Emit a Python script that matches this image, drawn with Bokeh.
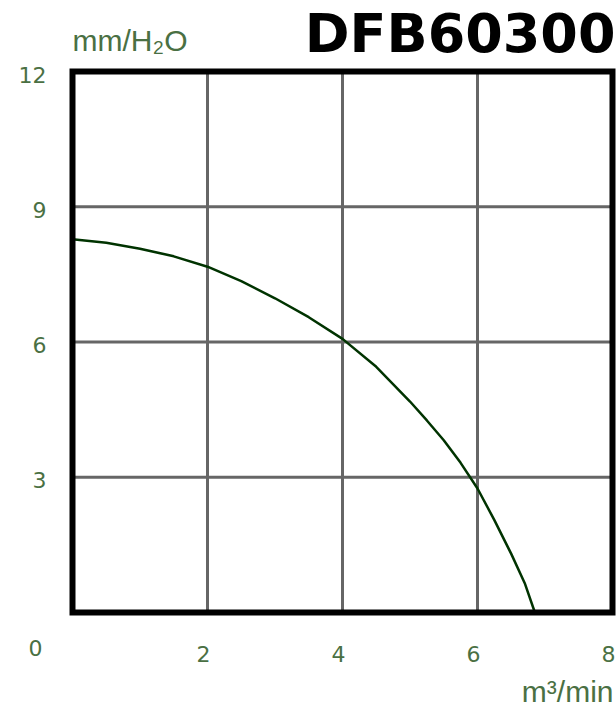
from bokeh.plotting import figure
from bokeh.models import Range1d
from bokeh.core.properties import value
from bokeh.embed import file_html
from bokeh.resources import INLINE

# Data (DFB60300 fan P-Q curve)
flow = [0.0, 0.5, 1.0, 1.5, 2.0, 2.5, 3.0, 3.5, 4.0, 4.5, 5.0, 5.25, 5.5,
        5.75, 6.0, 6.25, 6.5, 6.7, 6.85]
pressure = [8.28, 8.2, 8.07, 7.9, 7.67, 7.35, 6.97, 6.55, 6.07, 5.45, 4.68,
            4.26, 3.82, 3.32, 2.75, 2.05, 1.3, 0.65, 0.0]

x_limits = [0, 8]
y_limits = [0, 12]
x_ticks = [2, 4, 6, 8]
x_tick_labels = ["2", "4", "6", "8"]
y_ticks = [3, 6, 9, 12]
y_tick_labels = ["3", "6", "9", "12"]
x_grid = [2, 4, 6]
y_grid = [3, 6, 9]
origin_label = ["0"]
title_text = ["DFB60300"]
y_unit = ["mm/H\u2082O"]
x_unit = ["m\u00b3/min"]

GREEN = "#4a7043"
FONT = value("DejaVu Sans")
UNIT_FONT = value("Liberation Sans")

# layout (canvas pixels) of the plotting box
W, H = 616, 707
LEFT_PX, RIGHT_PX, TOP_PX, BOTTOM_PX = 72, 612, 71, 612
sx = (RIGHT_PX - LEFT_PX) / (x_limits[1] - x_limits[0])
sy = (BOTTOM_PX - TOP_PX) / (y_limits[1] - y_limits[0])
x_range = Range1d(x_limits[0] - LEFT_PX / sx, x_limits[1] + (W - RIGHT_PX) / sx)
y_range = Range1d(y_limits[0] - (H - BOTTOM_PX) / sy, y_limits[1] + TOP_PX / sy)

p = figure(width=W, height=H, x_range=x_range, y_range=y_range,
           output_backend="svg", toolbar_location=None, title=None,
           x_axis_location=None, y_axis_location=None, min_border=0)
p.background_fill_color = "white"
p.border_fill_color = "white"
p.outline_line_color = None
p.grid.visible = False

# grid lines
p.segment(x0=x_grid, y0=[y_limits[0]] * len(x_grid),
          x1=x_grid, y1=[y_limits[1]] * len(x_grid),
          line_color="#666666", line_width=3)
p.segment(x0=[x_limits[0]] * len(y_grid), y0=y_grid,
          x1=[x_limits[1]] * len(y_grid), y1=y_grid,
          line_color="#666666", line_width=3)

# curve
p.line(flow, pressure, line_color="#003300", line_width=2.5, line_join="round")

# frame box
p.quad(left=[x_limits[0]], right=[x_limits[1]],
       bottom=[y_limits[0]], top=[y_limits[1]],
       fill_color=None, line_color="black", line_width=6, line_join="miter")

# tick labels
p.text(x=[x_limits[0]] * len(y_ticks), y=y_ticks, text=y_tick_labels,
       x_offset=-26, y_offset=3, text_align="right", text_baseline="middle",
       text_font=FONT, text_font_size="22px", text_color=GREEN)
p.text(x=x_ticks, y=[y_limits[0]] * len(x_ticks), text=x_tick_labels,
       x_offset=-4, y_offset=41, text_align="center", text_baseline="middle",
       text_font=FONT, text_font_size="22px", text_color=GREEN)
p.text(x=[x_limits[0]], y=[y_limits[0]], text=origin_label,
       x_offset=-37, y_offset=35, text_align="center", text_baseline="middle",
       text_font=FONT, text_font_size="22px", text_color=GREEN)

# unit labels and title
p.text(x=[x_limits[0]], y=[y_limits[1]], text=y_unit,
       y_offset=-31, text_align="left", text_baseline="middle",
       text_font=UNIT_FONT, text_font_size="30px", text_color=GREEN)
p.text(x=[x_limits[1]], y=[y_limits[0]], text=x_unit,
       x_offset=1, y_offset=79, text_align="right", text_baseline="middle",
       text_font=UNIT_FONT, text_font_size="30px", text_color=GREEN)
p.text(x=[x_limits[1]], y=[y_limits[1]], text=title_text,
       x_offset=3, y_offset=-38, text_align="right", text_baseline="middle",
       text_font=FONT, text_font_style="bold", text_font_size="54px",
       text_color="black")

open("out.html", "w").write(file_html(p, INLINE))
